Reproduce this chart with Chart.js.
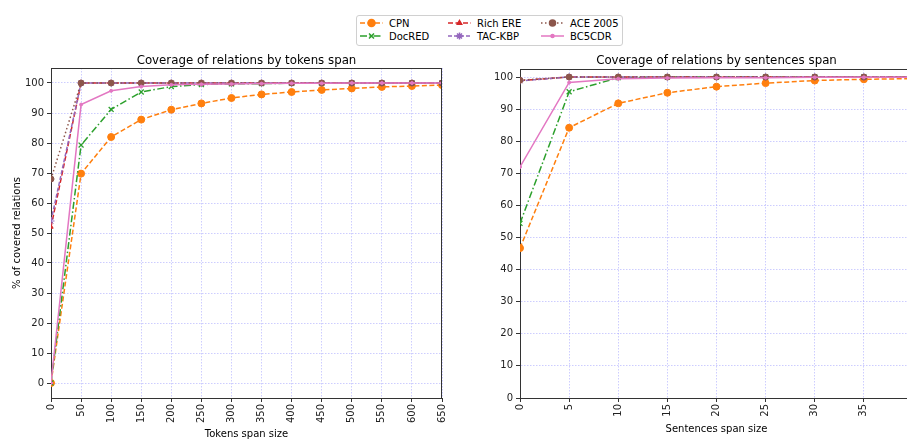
<!DOCTYPE html>
<html>
<head>
<meta charset="utf-8">
<script src="https://cdn.jsdelivr.net/npm/chart.js@4"></script>
<style>
body { margin: 0; background: #fff; width: 907px; height: 439px; overflow: hidden; position: relative; font-family: "DejaVu Sans", sans-serif; }
.box { position: absolute; }
.title { position: absolute; top: 52px; height: 16px; line-height: 16px; font-size: 11.8px; color: #000; text-align: center; white-space: nowrap; }
#legend { position: absolute; left: 356px; top: 15px; width: 265px; height: 29px; border: 1px solid #d0d0d0; border-radius: 3px; background: #fff; }
.item { position: absolute; height: 13px; font-size: 10px; color: #000; white-space: nowrap; line-height: 13px; }
.item canvas { vertical-align: middle; margin-right: 6px; position: relative; top: -1px; }
</style>
</head>
<body>
<div id="legend"></div>
<div class="box" style="left:0;top:50px;width:455px;height:390px"><canvas id="tokens"></canvas></div>
<div class="box" style="left:455px;top:50px;width:464px;height:385px"><canvas id="sentences"></canvas></div>
<div class="title" id="title-tokens">Coverage of relations by tokens span</div>
<div class="title" id="title-sentences">Coverage of relations by sentences span</div>
<script>
// Данные
const seriesNames = ['CPN', 'DocRED', 'Rich ERE', 'TAC-KBP', 'ACE 2005', 'BC5CDR'];

const tokenSpans = [0, 50, 100, 150, 200, 250, 300, 350, 400, 450, 500, 550, 600, 650];
const tokCPN     = [0, 69.8, 82, 87.8, 91.1, 93.2, 95, 96.2, 97, 97.7, 98.2, 98.7, 99, 99.3];
const tokDocRED  = [0, 79.3, 91.2, 97, 98.8, 99.5, 99.7, 99.8, 99.9, 99.9, 100, 100, 100, 100];
const tokRichERE = [52, 100, 100, 100, 100, 100, 100, 100, 100, 100, 100, 100, 100, 100];
const tokTACKBP  = [54, 100, 100, 100, 100, 100, 100, 100, 100, 100, 100, 100, 100, 100];
const tokACE     = [68, 100, 100, 100, 100, 100, 100, 100, 100, 100, 100, 100, 100, 100];
const tokBC5CDR  = [0, 92.8, 97.4, 98.8, 99.4, 99.6, 99.7, 99.8, 99.9, 99.9, 100, 100, 100, 100];

const sentSpans   = [0, 5, 10, 15, 20, 25, 30, 35, 40];
const sentCPN     = [46.7, 84.2, 91.8, 95.1, 97, 98.1, 98.9, 99.3, 99.5];
const sentDocRED  = [54.4, 95.4, 99.8, 100, 100, 100, 100, 100, 100];
const sentRichERE = [98.9, 100, 100, 100, 100, 100, 100, 100, 100];
const sentTACKBP  = [98.8, 100, 100, 100, 100, 100, 100, 100, 100];
const sentACE     = [99.0, 100, 100, 100, 100, 100, 100, 100, 100];
const sentBC5CDR  = [72.0, 98.3, 99.5, 99.7, 99.8, 99.8, 99.9, 99.9, 99.9];

const yTicksPercent = [0, 10, 20, 30, 40, 50, 60, 70, 80, 90, 100];

// Стили линий (как в matplotlib)
const styles = [
    { color: '#ff7f0e', dash: [5, 2.5], point: 'circle', radius: 3.5 },
    { color: '#2ca02c', dash: [7, 2.5, 1.5, 2.5], point: 'crossRot', radius: 3.5 },
    { color: '#d62728', dash: [5, 2.5], point: 'triangle', radius: 2.5 },
    { color: '#9467bd', dash: [4, 2], point: 'star', radius: 3.5 },
    { color: '#8c564b', dash: [1.5, 2.5], point: 'circle', radius: 3 },
    { color: '#e377c2', dash: [], point: 'circle', radius: 1.5 }
];

const FONT = 'DejaVu Sans';
const gridColor = 'rgba(90,90,255,0.3)';

function buildDatasets(xs, seriesList) {
    return seriesList.map((ys, i) => ({
        label: seriesNames[i],
        data: xs.map((x, k) => ({ x: x, y: ys[k] })),
        borderColor: styles[i].color,
        backgroundColor: styles[i].color,
        borderWidth: 1.5,
        borderDash: styles[i].dash,
        pointStyle: styles[i].point,
        pointRadius: styles[i].radius,
        pointBorderWidth: styles[i].point === 'crossRot' ? 1.3 : 1,
        tension: 0,
        order: seriesNames.length - i
    }));
}

// Рамка вокруг области графика
const framePlugin = {
    id: 'frame',
    afterDraw(chart) {
        const a = chart.chartArea;
        const ctx = chart.ctx;
        ctx.save();
        ctx.strokeStyle = '#333';
        ctx.lineWidth = 1;
        ctx.beginPath();
        ctx.moveTo(a.left, a.top + 0.5);
        ctx.lineTo(a.right, a.top + 0.5);
        ctx.moveTo(a.right - 0.5, a.top);
        ctx.lineTo(a.right - 0.5, a.bottom);
        ctx.stroke();
        ctx.restore();
    }
};

function axisCommon(extra) {
    return Object.assign({
        type: 'linear',
        grid: { color: gridColor, lineWidth: 1, tickColor: '#333', tickLength: 4 },
        border: { color: '#333', width: 1, dash: [1.5, 1.5] }
    }, extra);
}

function makeChart(id, cfg) {
    const chart = new Chart(document.getElementById(id), {
        type: 'line',
        data: { datasets: cfg.datasets },
        plugins: [framePlugin],
        options: {
            responsive: true,
            maintainAspectRatio: false,
            animation: false,
            layout: { padding: { left: 0, right: 0, top: cfg.padTop, bottom: 0 } },
            plugins: {
                legend: { display: false },
                tooltip: { enabled: false },
                title: { display: false }
            },
            scales: {
                x: axisCommon({
                    min: cfg.xMin, max: cfg.xMax,
                    ticks: { color: '#222', font: { family: FONT, size: 10 }, padding: 2, includeBounds: false,
                             stepSize: cfg.xStep, minRotation: 90, maxRotation: 90 },
                    title: { display: true, text: cfg.xTitle, color: '#000', font: { family: FONT, size: 10 }, padding: 0 },
                    afterFit: s => { s.height = cfg.xHeight; }
                }),
                y: axisCommon({
                    min: cfg.yMin, max: cfg.yMax,
                    ticks: { color: '#222', font: { family: FONT, size: 10 }, padding: 3 },
                    afterBuildTicks: s => { s.ticks = yTicksPercent.map(v => ({ value: v })); },
                    title: { display: !!cfg.yTitle, text: cfg.yTitle || '', color: '#000', font: { family: FONT, size: 10 }, padding: { top: 11, bottom: 0 } },
                    afterFit: s => { s.width = cfg.yWidth; s.paddingTop = 0; s.paddingBottom = 0; }
                })
            }
        }
    });

    // Подгоняем ширину, чтобы правый край области графика был на нужном месте
    const wrap = chart.canvas.parentNode;
    const diff = cfg.plotRight - (wrap.offsetLeft + chart.chartArea.right);
    if (Math.abs(diff) > 0.5) {
        wrap.style.width = (wrap.offsetWidth + diff) + 'px';
        chart.resize();
    }

    // Заголовок по центру области графика
    const t = document.getElementById(cfg.titleId);
    t.style.left = (wrap.offsetLeft + chart.chartArea.left) + 'px';
    t.style.width = (chart.chartArea.right - chart.chartArea.left) + 'px';
    return chart;
}

makeChart('tokens', {
    datasets: buildDatasets(tokenSpans, [tokCPN, tokDocRED, tokRichERE, tokTACKBP, tokACE, tokBC5CDR]),
    titleId: 'title-tokens',
    xTitle: 'Tokens span size',
    yTitle: '% of covered relations',
    xMin: 0, xMax: 650, xStep: 50,
    yMin: -5, yMax: 105,
    yWidth: 51, padTop: 18, xHeight: 42, plotRight: 442
});

makeChart('sentences', {
    datasets: buildDatasets(sentSpans, [sentCPN, sentDocRED, sentRichERE, sentTACKBP, sentACE, sentBC5CDR]),
    titleId: 'title-sentences',
    xTitle: 'Sentences span size',
    yTitle: null,
    xMin: 0, xMax: 40, xStep: 5,
    yMin: 0, yMax: 102.5,
    yWidth: 65, padTop: 19, xHeight: 37, plotRight: 913
});

// Легенда
const legendPos = [[3, 1], [3, 14], [91, 1], [91, 14], [184, 1], [184, 14]];
const legend = document.getElementById('legend');
seriesNames.forEach((name, i) => {
    const item = document.createElement('div');
    item.className = 'item';
    item.style.left = legendPos[i][0] + 'px';
    item.style.top = legendPos[i][1] + 'px';
    const c = document.createElement('canvas');
    c.width = 23; c.height = 10;
    const ctx = c.getContext('2d');
    ctx.strokeStyle = styles[i].color;
    ctx.lineWidth = 1.5;
    ctx.setLineDash(styles[i].dash);
    ctx.beginPath();
    ctx.moveTo(0, 5); ctx.lineTo(23, 5);
    ctx.stroke();
    ctx.setLineDash([]);
    ctx.fillStyle = styles[i].color;
    Chart.helpers.drawPoint(ctx, {
        pointStyle: styles[i].point, radius: styles[i].radius, rotation: 0,
        borderWidth: styles[i].point === 'crossRot' ? 1.3 : 1
    }, 11.5, 5);
    item.appendChild(c);
    item.appendChild(document.createTextNode(name));
    legend.appendChild(item);
});
</script>
</body>
</html>
